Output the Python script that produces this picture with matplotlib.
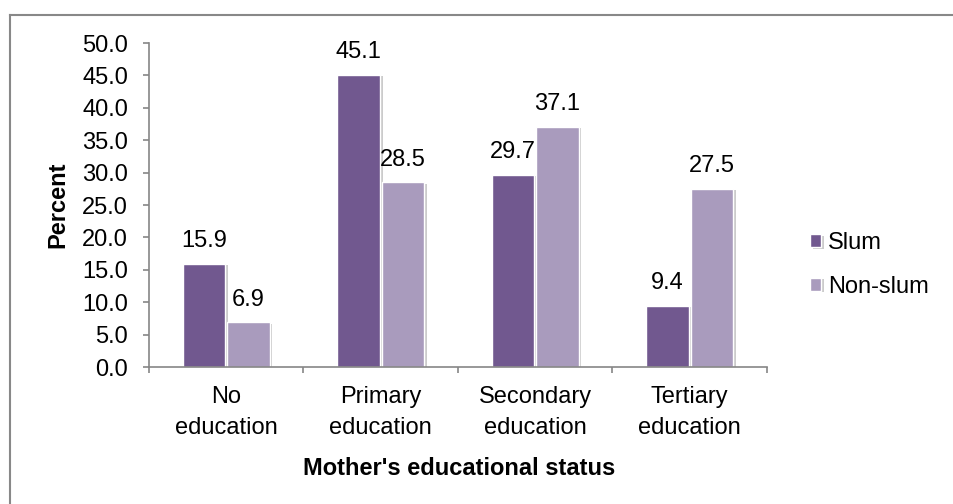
import matplotlib
matplotlib.use("Agg")
import matplotlib.pyplot as plt
import matplotlib.patheffects as pe
from matplotlib.lines import Line2D
import numpy as np

categories = ["No\neducation", "Primary\neducation", "Secondary\neducation", "Tertiary\neducation"]
slum = [15.9, 45.1, 29.7, 9.4]
non_slum = [6.9, 28.5, 37.1, 27.5]
series_names = ["Slum", "Non-slum"]
y_ticks = [0, 5, 10, 15, 20, 25, 30, 35, 40, 45, 50]

plt.rcParams['font.family'] = ['Liberation Sans', 'DejaVu Sans']
FS = 17

W, H = 954, 504
fig = plt.figure(figsize=(W/100, H/100), dpi=100)
ax = fig.add_axes([149/W, 1 - 367/H, (767-149)/W, (367-43)/H])

c_slum = "#71588F"
c_non = "#A99BBD"
x = np.arange(len(categories))
w = 0.275
shadow = [pe.SimplePatchShadow(offset=(2, -1), shadow_rgbFace=(0.6, 0.6, 0.6), alpha=0.5), pe.Normal()]
b1 = ax.bar(x - w/2 - 0.005, slum, w, color=c_slum, edgecolor="white", linewidth=1, label=series_names[0], path_effects=shadow)
b2 = ax.bar(x + w/2 + 0.005, non_slum, w, color=c_non, edgecolor="white", linewidth=1, label=series_names[1], path_effects=shadow)

for bars, vals in ((b1, slum), (b2, non_slum)):
    for r, v in zip(bars, vals):
        ax.annotate(f"{v:.1f}", (r.get_x() + r.get_width()/2, v), xytext=(0, 12),
                    textcoords="offset points", ha="center", va="baseline", fontsize=FS)

ax.set_xlim(-0.5, len(categories) - 0.5)
ax.set_ylim(0, 50)
ax.set_yticks(y_ticks)
ax.set_yticklabels([f"{t:.1f}" for t in y_ticks], fontsize=FS)
ax.set_xticks(x)
ax.set_xticklabels(categories, fontsize=FS, linespacing=1.5)
ax.tick_params(axis="x", length=0, pad=14)
ax.set_xticks(np.arange(len(categories) + 1) - 0.5, minor=True)
ax.tick_params(axis="x", which="minor", length=4.5, color="#868686", width=1.2)
ax.tick_params(axis="y", length=4.5, color="#868686", width=1.2, pad=10.5)

for s in ["top", "right"]:
    ax.spines[s].set_visible(False)
for s in ["left", "bottom"]:
    ax.spines[s].set_color("#868686")
    ax.spines[s].set_linewidth(1.2)

fig.text(69/W, 1 - 205/H, "Percent", rotation=90, ha="right", va="center", fontsize=FS, fontweight="bold")
fig.text(459/W, 1 - 475/H, "Mother's educational status", ha="center", va="baseline", fontsize=FS, fontweight="bold")

leg = ax.legend(loc="center left", bbox_to_anchor=(810/W, 1 - 265/H), bbox_transform=fig.transFigure,
                frameon=False, fontsize=FS, handlelength=0.47, handleheight=0.47, handletextpad=0.3,
                labelspacing=0.92, borderpad=0, borderaxespad=0)

fig.add_artist(Line2D([10/W, 953/W], [1 - 15/H, 1 - 15/H], transform=fig.transFigure, color="#888888", lw=1.5))
fig.add_artist(Line2D([10/W, 10/W], [0, 1 - 15/H], transform=fig.transFigure, color="#888888", lw=1.5))

fig.savefig("out.png", dpi=100)
